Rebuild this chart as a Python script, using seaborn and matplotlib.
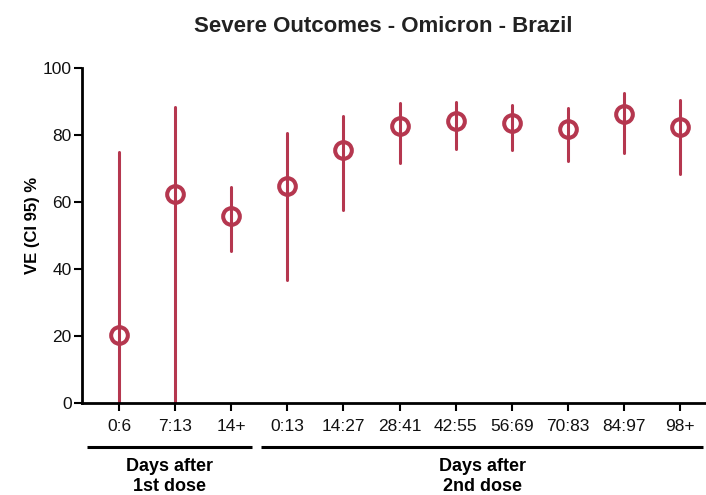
import numpy as np
import pandas as pd
import seaborn as sns
import matplotlib
matplotlib.use('Agg')
import matplotlib.pyplot as plt
import matplotlib.transforms as mtransforms

# values
labels = ['0:6', '7:13', '14+', '0:13', '14:27', '28:41', '42:55', '56:69', '70:83', '84:97', '98+']
ve = [20.4, 62.5, 56.0, 64.9, 75.6, 82.8, 84.3, 83.8, 82.0, 86.4, 82.6]
ci_lo = [0.0, 0.0, 45.5, 36.8, 57.7, 71.6, 75.9, 75.6, 72.2, 74.8, 68.4]
ci_hi = [75.1, 88.5, 64.7, 80.6, 85.9, 89.6, 89.8, 89.0, 88.2, 92.7, 90.5]
groups = ['Days after\n1st dose', 'Days after\n2nd dose']
group_sizes = [3, 8]

red = '#b5374f'

sns.set_style('ticks')
plt.rcParams['font.family'] = ['Liberation Sans', 'DejaVu Sans']

# long form: lower, estimate, upper per category -> median is the estimate
df = pd.DataFrame({
    'period': np.repeat(labels, 3),
    'value': np.column_stack([ci_lo, ve, ci_hi]).ravel(),
})

fig = plt.figure(figsize=(7.06, 4.95), dpi=100)
ax = fig.add_axes([0.1161, 0.1853, 0.8839, 0.6767])

sns.pointplot(data=df, x='period', y='value', order=labels,
              estimator='median', errorbar=lambda v: (v.min(), v.max()),
              color=red, markers='o', linestyles='none',
              markersize=12, markeredgewidth=2.9, markerfacecolor='none',
              linewidth=2.2, err_kws={'linewidth': 2.2}, ax=ax)

ax.set_xlim(-0.66, 10.46)
ax.set_ylim(0, 100)
ax.set_yticks([0, 20, 40, 60, 80, 100])
ax.set_xlabel('')
ax.set_ylabel('VE (CI 95) %', fontsize=12, fontweight='bold', color='black')
ax.yaxis.set_label_coords(-0.068, 0.532)

sns.despine(ax=ax)
for s in ['left', 'bottom']:
    ax.spines[s].set_linewidth(2.0)
    ax.spines[s].set_color('black')
ax.tick_params(axis='both', length=6, width=1.5, color='black',
               labelsize=12.5, labelcolor='#111111')
ax.tick_params(axis='x', pad=5)
ax.tick_params(axis='y', pad=1.5)

# group brackets under the x axis
trans = mtransforms.blended_transform_factory(ax.transData, ax.transAxes)
start = 0
for i, (name, size) in enumerate(zip(groups, group_sizes)):
    if i == 0:
        x0, x1 = start - 0.57, start + size - 1 + 0.37
    else:
        x0, x1 = start - 0.47, start + size - 1 + 0.41
    ax.plot([x0, x1], [-0.13, -0.13], color='black', lw=2.2,
            transform=trans, clip_on=False, solid_capstyle='butt')
    top, bottom = name.split('\n')
    xc = (x0 + x1) / 2
    ax.text(xc, -0.202, top, transform=trans, ha='center', va='baseline',
            fontsize=13, fontweight='bold', color='black')
    ax.text(xc, -0.262, bottom, transform=trans, ha='center', va='baseline',
            fontsize=13, fontweight='bold', color='black')
    start += size

fig.text(0.5425, 0.936, 'Severe Outcomes - Omicron - Brazil', ha='center',
         va='baseline', fontsize=16, fontweight='bold', color='#222222')

fig.savefig('out.png', dpi=100)
